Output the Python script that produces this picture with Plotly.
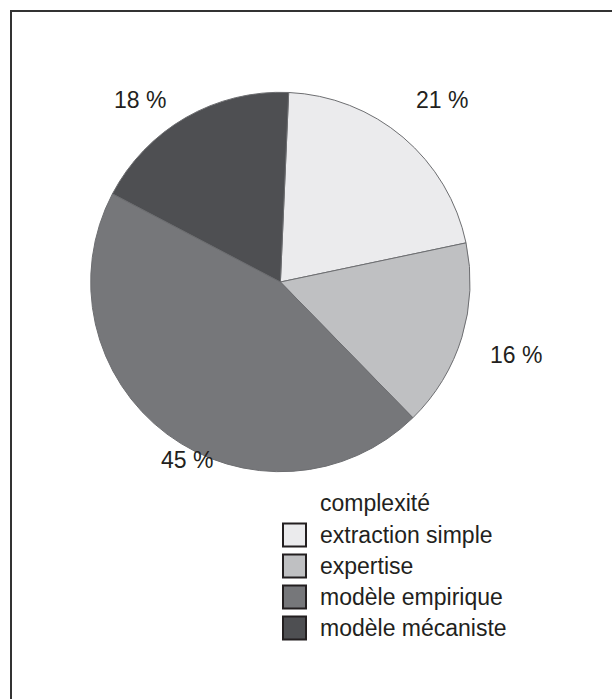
import math
import plotly.graph_objects as go

# Share of approaches by level of complexity
categories = ["extraction simple", "expertise", "modèle empirique", "modèle mécaniste"]
shares = [21, 16, 45, 18]
legend_title = "complexité"

colors = ["#ebebed", "#bfc0c2", "#76777a", "#4e4f52"]
text_color = "#231f20"
font_family = "Liberation Sans, Arial, sans-serif"

W, H = 612, 699

# pie placement in pixels
cx, cy, r = 280.4, 282.0, 189.7
rotation = 2.5

# outside percentage labels: radial distance factor and angular nudge per slice
label_dist = [1.28, 1.30, 1.06, 1.21]
label_nudge = [1.3, 0.2, -9.0, -7.7]


def px(x):
    return x / W


def py(y):
    return 1 - y / H


fig = go.Figure(
    go.Pie(
        labels=categories,
        values=shares,
        sort=False,
        direction="clockwise",
        rotation=rotation,
        textinfo="none",
        hoverinfo="label+percent",
        marker=dict(colors=colors, line=dict(color="#6d6e71", width=1)),
        domain=dict(x=[px(cx - r), px(cx + r)], y=[py(cy + r), py(cy - r)]),
        showlegend=False,
    )
)

annotations = []
shapes = []

# percentage labels placed around the pie at each slice's mid angle
total = sum(shares)
start = rotation
for i, v in enumerate(shares):
    span = 360 * v / total
    mid = math.radians(start + span / 2 + label_nudge[i])
    d = r * label_dist[i]
    lx = cx + d * math.sin(mid)
    ly = cy - d * math.cos(mid)
    annotations.append(dict(
        x=px(lx), y=py(ly), xref="paper", yref="paper",
        text=f"{round(100 * v / total)} %", showarrow=False,
        xanchor="center", yanchor="middle",
        font=dict(family=font_family, size=23, color=text_color),
    ))
    start += span

# legend drawn as boxes with text
lg_x, lg_text_x = 283, 318
lg_title_y, lg_first_y, lg_step, box = 503, 535, 31, 23
annotations.append(dict(
    x=px(lg_text_x), y=py(lg_title_y), xref="paper", yref="paper",
    text=legend_title, showarrow=False, xanchor="left", yanchor="middle",
    font=dict(family=font_family, size=23, color=text_color),
))
for i, (name, col) in enumerate(zip(categories, colors)):
    yc = lg_first_y + i * lg_step
    shapes.append(dict(
        type="rect", xref="paper", yref="paper",
        x0=px(lg_x), x1=px(lg_x + box), y0=py(yc + box / 2), y1=py(yc - box / 2),
        fillcolor=col, line=dict(color=text_color, width=2),
    ))
    annotations.append(dict(
        x=px(lg_text_x), y=py(yc), xref="paper", yref="paper",
        text=name, showarrow=False, xanchor="left", yanchor="middle",
        font=dict(family=font_family, size=23, color=text_color),
    ))

# frame around the figure
shapes.append(dict(
    type="rect", xref="paper", yref="paper",
    x0=px(11), x1=1.05, y0=-0.05, y1=py(11),
    line=dict(color="#333333", width=2), fillcolor="rgba(0,0,0,0)", layer="below",
))

fig.update_layout(
    width=W, height=H,
    margin=dict(l=0, r=0, t=0, b=0),
    paper_bgcolor="white", plot_bgcolor="white",
    annotations=annotations, shapes=shapes,
)

fig.write_html("out.html")
